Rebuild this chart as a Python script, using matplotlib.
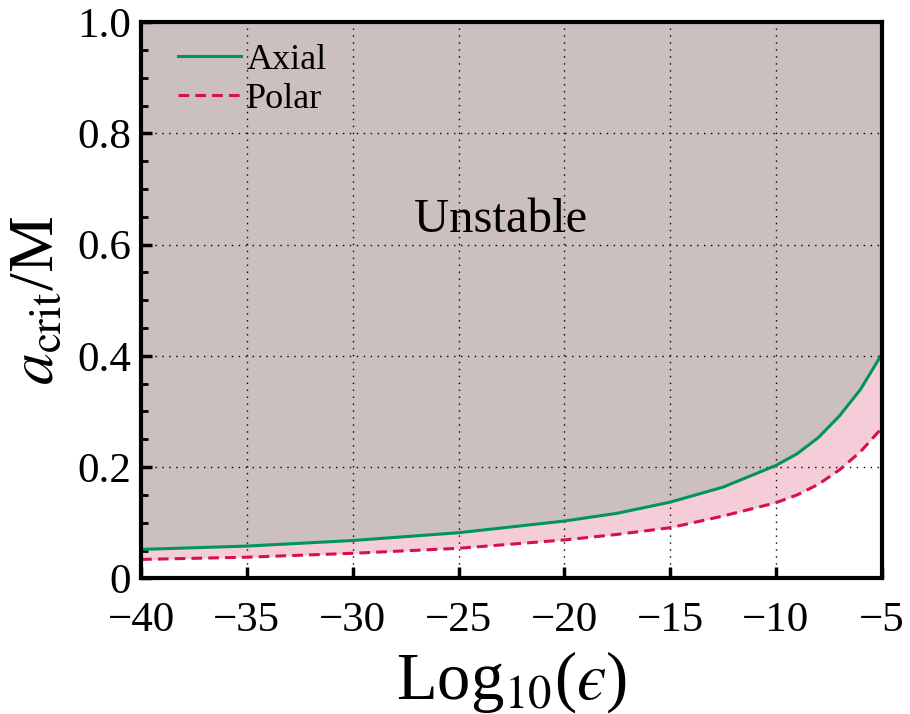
import numpy as np
import matplotlib
matplotlib.use("Agg")
import matplotlib.pyplot as plt

plt.rcParams['font.family'] = ['Liberation Serif', 'DejaVu Serif']
plt.rcParams['mathtext.fontset'] = 'stix'

# values
log_eps = [-40, -35, -30, -25, -20, -17.5, -15, -12.5, -10, -9, -8, -7, -6, -5]
axial = [0.052, 0.058, 0.068, 0.082, 0.103, 0.117, 0.137, 0.164, 0.203, 0.224, 0.253, 0.292, 0.340, 0.403]
polar = [0.034, 0.038, 0.045, 0.054, 0.069, 0.079, 0.091, 0.112, 0.136, 0.150, 0.169, 0.195, 0.228, 0.270]

xticks = [-40, -35, -30, -25, -20, -15, -10, -5]
yticks = [0, 0.2, 0.4, 0.6, 0.8, 1.0]
yticklabels = ['0', '0.2', '0.4', '0.6', '0.8', '1.0']

fig = plt.figure(figsize=(9.1, 7.14), dpi=100)
ax = fig.add_axes([0.155, 0.190, 0.814, 0.779])

ax.fill_between(log_eps, axial, 1.0, color='#cbbfbf', lw=0, zorder=1)
ax.fill_between(log_eps, polar, axial, color='#f5cdd8', lw=0, zorder=1)

ax.plot(log_eps, axial, color='#00955a', lw=2.2, label='Axial', zorder=3)
ax.plot(log_eps, polar, color='#d6124a', lw=2.2, ls=(0, (3.5, 2)), label='Polar', zorder=3)

ax.set_xlim(-40, -5)
ax.set_ylim(0, 1)
ax.set_xticks(xticks)
ax.set_yticks(yticks)
ax.set_yticklabels(yticklabels)
ax.set_yticks(np.arange(0, 1.0, 0.05), minor=True)

ax.grid(True, which='major', color='black', ls=(0, (1, 4)), lw=1.0, zorder=2)
ax.set_axisbelow(False)

ax.tick_params(which='major', direction='in', length=8, width=2.5, labelsize=31)
ax.tick_params(axis='x', pad=17)
ax.tick_params(axis='y', pad=7)
ax.tick_params(which='minor', direction='in', length=5, width=2)
for s in ax.spines.values():
    s.set_linewidth(3)
    s.set_zorder(5)

ax.text(-23, 0.645, 'Unstable', fontsize=35, ha='center', va='center', zorder=4)

ax.set_xlabel('Log$_{10}$($\u03f5$)', fontsize=48, labelpad=6)
ax.set_ylabel(r'$a_{\rm crit}$/M', fontsize=46, labelpad=8)

ax.legend(loc='upper left', frameon=False, fontsize=26, handlelength=1.75,
          handletextpad=0.15, labelspacing=0.15, borderaxespad=0.2,
          bbox_to_anchor=(0.02, 1.0))

fig.savefig('out.png', dpi=100)
